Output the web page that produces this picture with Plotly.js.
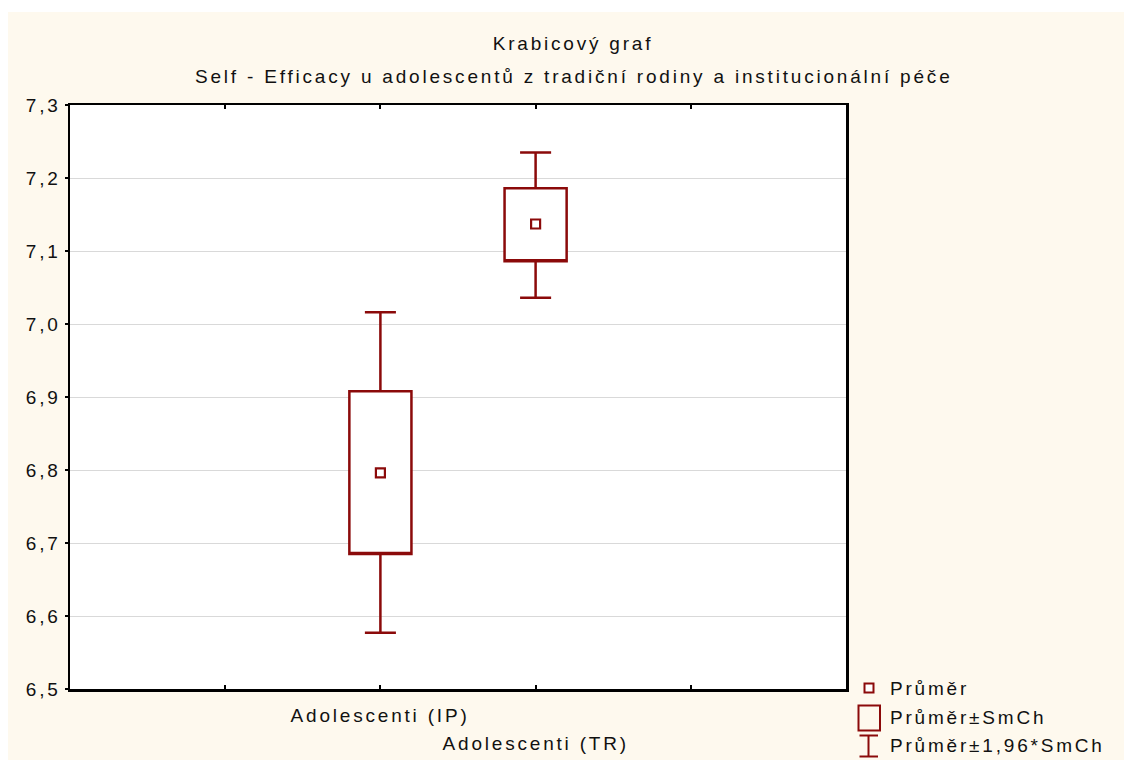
<!DOCTYPE html>
<html>
<head>
<meta charset="utf-8">
<script src="https://cdn.plot.ly/plotly-3.0.1.min.js"></script>
<style>
  html, body { margin: 0; padding: 0; background: #ffffff; }
  #chart { position: absolute; left: 8px; top: 12px; width: 1116px; height: 748px; }
  #chart svg text { letter-spacing: 2.8px; }
</style>
</head>
<body>
<div id="chart"></div>
<script>
// Group labels and their positions on the category axis
const categories = ['Adolescenti (IP)', 'Adolescenti (TR)'];
const catPos = [1, 2];

// Mean, mean ± SE, mean ± 1.96*SE for each group
const means = [6.796, 7.137];
const boxLow = [6.685, 7.086];
const boxHigh = [6.908, 7.186];
const whiskerLow = [6.577, 7.036];
const whiskerHigh = [7.016, 7.235];

// Value axis ticks
const yTicks = [6.5, 6.6, 6.7, 6.8, 6.9, 7.0, 7.1, 7.2, 7.3];

const red = '#8b0a0a';
const cream = '#fef9ee';
const font = 'Liberation Sans, Arial, sans-serif';
const FS = 19;
const ink = '#111111';

// page pixel -> paper fraction (plot area spans x 70..846, y 105..689)
const PX0 = 70, PX1 = 846, PY0 = 689, PY1 = 105;
const px = x => (x - PX0) / (PX1 - PX0);
const py = y => (PY0 - y) / (PY0 - PY1);

const boxTrace = {
  type: 'box',
  x: catPos,
  q1: boxLow,
  median: boxLow,
  q3: boxHigh,
  lowerfence: whiskerLow,
  upperfence: whiskerHigh,
  width: 0.4,
  whiskerwidth: 0.5,
  fillcolor: '#ffffff',
  line: { color: red, width: 2.5 },
  boxpoints: false,
  hoverinfo: 'skip',
  showlegend: false
};

const meanTrace = {
  type: 'scatter',
  mode: 'markers',
  x: catPos,
  y: means,
  marker: { symbol: 'square-open', size: 9, color: red, line: { color: red, width: 2.2 } },
  showlegend: false,
  hoverinfo: 'skip'
};

// Legend glyphs (drawn in paper space, right of the plot)
const legendShapes = [
  { type: 'rect', xref: 'paper', yref: 'paper', x0: px(864.5), x1: px(873.5), y0: py(692.5), y1: py(683.5),
    line: { color: red, width: 2 }, fillcolor: '#ffffff' },
  { type: 'rect', xref: 'paper', yref: 'paper', x0: px(858.5), x1: px(880), y0: py(730.5), y1: py(705.5),
    line: { color: red, width: 2 }, fillcolor: cream },
  { type: 'line', xref: 'paper', yref: 'paper', x0: px(868.5), x1: px(868.5), y0: py(735.5), y1: py(757),
    line: { color: red, width: 2 } },
  { type: 'line', xref: 'paper', yref: 'paper', x0: px(859.5), x1: px(878), y0: py(735.5), y1: py(735.5),
    line: { color: red, width: 2 } },
  { type: 'line', xref: 'paper', yref: 'paper', x0: px(859.5), x1: px(878), y0: py(756.5), y1: py(756.5),
    line: { color: red, width: 2 } }
];

const legendLabels = ['Průměr', 'Průměr±SmCh', 'Průměr±1,96*SmCh'];
const legendRows = [688, 717, 746];

const annotations = [
  { text: 'Self - Efficacy u adolescentů z tradiční rodiny a institucionální péče',
    xref: 'paper', yref: 'paper', x: px(574), y: py(76), xanchor: 'center', yanchor: 'middle',
    showarrow: false, font: { family: font, size: FS, color: ink } },
  { text: categories[0], xref: 'x', yref: 'paper', x: catPos[0], y: py(715),
    xanchor: 'center', yanchor: 'middle', showarrow: false, font: { family: font, size: FS, color: ink } },
  { text: categories[1], xref: 'x', yref: 'paper', x: catPos[1], y: py(743),
    xanchor: 'center', yanchor: 'middle', showarrow: false, font: { family: font, size: FS, color: ink } }
].concat(legendLabels.map((t, i) => ({
  text: t, xref: 'paper', yref: 'paper', x: px(888), y: py(legendRows[i]),
  xanchor: 'left', yanchor: 'middle', align: 'left', showarrow: false,
  font: { family: font, size: FS, color: ink }
})));

const layout = {
  width: 1116,
  height: 748,
  paper_bgcolor: cream,
  plot_bgcolor: '#ffffff',
  separators: ', ',
  font: { family: font, size: FS, color: ink },
  margin: { l: 62, r: 278, t: 93, b: 71, pad: 0 },
  title: {
    text: 'Krabicový graf',
    x: px(573), xref: 'paper', xanchor: 'center',
    y: 1 - (43 - 12) / 748, yref: 'container', yanchor: 'middle',
    font: { family: font, size: FS, color: ink }
  },
  xaxis: {
    range: [-1, 4],
    tickvals: [0, 1, 2, 3],
    showticklabels: false,
    ticks: 'inside',
    ticklen: 4,
    tickwidth: 2,
    tickcolor: '#000',
    showline: true,
    linecolor: '#000',
    linewidth: 2.5,
    mirror: 'ticks',
    showgrid: false,
    zeroline: false,
    fixedrange: true
  },
  yaxis: {
    range: [6.5, 7.3],
    tickvals: yTicks,
    tickformat: '.1f',
    ticks: 'outside',
    ticklen: 3,
    tickwidth: 2,
    tickcolor: '#000',
    showline: true,
    linecolor: '#000',
    linewidth: 2.5,
    mirror: true,
    showgrid: true,
    gridcolor: '#d9d9d9',
    gridwidth: 1,
    zeroline: false,
    tickfont: { family: font, size: FS, color: ink },
    fixedrange: true
  },
  shapes: legendShapes,
  annotations: annotations,
  showlegend: false
};

Plotly.newPlot('chart', [boxTrace, meanTrace], layout, { staticPlot: true, displayModeBar: false });
</script>
</body>
</html>
